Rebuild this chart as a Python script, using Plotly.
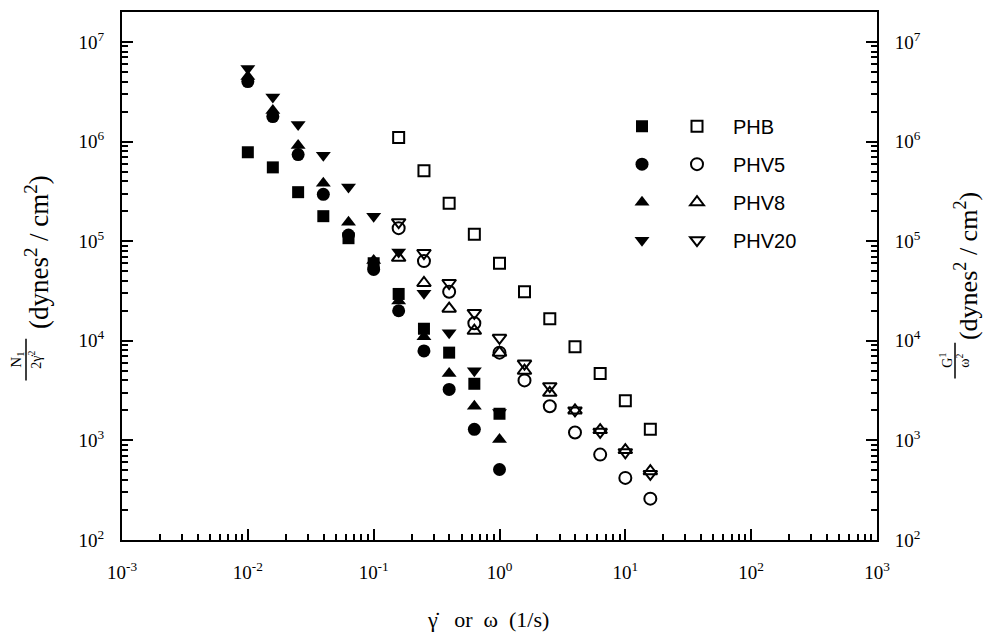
import plotly.graph_objects as go

# ---------------- data ----------------
shear_rate = [0.01, 0.0158, 0.0251, 0.0398, 0.0631, 0.1, 0.158, 0.251, 0.398, 0.631, 1.0]
freq = [0.158, 0.251, 0.398, 0.631, 1.0, 1.58, 2.51, 3.98, 6.31, 10.0, 15.8]

phb_n1 = [7.8e5, 5.5e5, 3.1e5, 1.78e5, 1.07e5, 6.0e4, 2.95e4, 1.32e4, 7.6e3, 3.7e3, 1.85e3]
phv5_n1 = [4.0e6, 1.78e6, 7.4e5, 2.95e5, 1.15e5, 5.2e4, 2.0e4, 7.9e3, 3.25e3, 1.29e3, 5.1e2]
phv8_n1 = [4.5e6, 2.05e6, 9.1e5, 3.8e5, 1.55e5, 6.4e4, 2.5e4, 1.1e4, 4.7e3, 2.2e3, 1.02e3]
phv20_n1 = [5.4e6, 2.8e6, 1.48e6, 7.3e5, 3.5e5, 1.78e5, 7.8e4, 3.0e4, 1.2e4, 5.0e3, 1.9e3]

phb_g = [1.1e6, 5.1e5, 2.4e5, 1.17e5, 6.0e4, 3.1e4, 1.66e4, 8.7e3, 4.7e3, 2.5e3, 1.29e3]
phv5_g = [1.35e5, 6.3e4, 3.1e4, 1.5e4, 7.6e3, 4.0e3, 2.2e3, 1.2e3, 7.2e2, 4.2e2, 2.6e2]
phv8_g = [6.8e4, 3.8e4, 2.1e4, 1.26e4, 7.6e3, 5.0e3, 3.0e3, 2.0e3, 1.27e3, 8.0e2, 4.9e2]
phv20_g = [1.55e5, 7.6e4, 3.8e4, 1.9e4, 1.07e4, 5.9e3, 3.5e3, 2.0e3, 1.22e3, 7.6e2, 4.6e2]

series_names = ["PHB", "PHV5", "PHV8", "PHV20"]

x_tickvals = [1e-3, 1e-2, 1e-1, 1e0, 1e1, 1e2, 1e3]
x_ticktext = ["10<sup>-3</sup>", "10<sup>-2</sup>", "10<sup>-1</sup>", "10<sup>0</sup>",
              "10<sup>1</sup>", "10<sup>2</sup>", "10<sup>3</sup>"]
y_tickvals = [1e2, 1e3, 1e4, 1e5, 1e6, 1e7]
y_ticktext = ["10<sup>2</sup>", "10<sup>3</sup>", "10<sup>4</sup>", "10<sup>5</sup>",
              "10<sup>6</sup>", "10<sup>7</sup>"]

# ---------------- figure ----------------
fig = go.Figure()

filled = [
    (phb_n1, "square", 12),
    (phv5_n1, "circle", 13),
    (phv8_n1, "triangle-up", 13),
    (phv20_n1, "triangle-down", 13),
]
opened = [
    (phb_g, "square-open", 11),
    (phv5_g, "circle-open", 12),
    (phv8_g, "triangle-up-open", 12),
    (phv20_g, "triangle-down-open", 12),
]

for i, (vals, sym, sz) in enumerate(filled):
    fig.add_trace(go.Scatter(
        x=shear_rate, y=vals, mode="markers", name="",
        marker=dict(symbol=sym, size=sz, color="black", line=dict(width=0)),
        legend="legend", legendgroup=f"f{i}", showlegend=True,
    ))

for i, (vals, sym, sz) in enumerate(opened):
    fig.add_trace(go.Scatter(
        x=freq, y=vals, mode="markers", name=series_names[i],
        marker=dict(symbol=sym, size=sz, color="black", line=dict(width=2, color="black")),
        legend="legend2", legendgroup=f"o{i}", showlegend=True, yaxis="y2",
    ))

# the page puts the figure 8px in from the top-left corner
OFF = 8
W, H = 992 - OFF, 632 - OFF
L, T = 122 - OFF, 10 - OFF
R = W - (877 - OFF)
B = H - (540 - OFF)
pw, ph = W - L - R, H - T - B


def px(xs):
    return (xs - OFF - L) / pw


def py(ys):
    return (H - B - (ys - OFF)) / ph


tickfont = dict(family="Liberation Serif", size=19, color="black")
minor = dict(ticks="inside", ticklen=6, tickwidth=1.5, dtick="D1", tickcolor="black", showgrid=False)

fig.update_layout(
    width=W, height=H,
    margin=dict(l=L, r=R, t=T, b=B),
    paper_bgcolor="white", plot_bgcolor="white",
    font=dict(family="Liberation Serif", color="black"),
    xaxis=dict(
        type="log", range=[-3, 3], tickvals=x_tickvals, ticktext=x_ticktext,
        showline=True, linecolor="black", linewidth=2, mirror=True,
        ticks="inside", ticklen=11, tickwidth=1.5, tickcolor="black",
        tickfont=tickfont, ticklabelstandoff=14, showgrid=False, zeroline=False,
        minor=minor,
    ),
    yaxis=dict(
        type="log", range=[2, 7.3], tickvals=y_tickvals, ticktext=y_ticktext,
        showline=True, linecolor="black", linewidth=2,
        ticks="inside", ticklen=11, tickwidth=1.5, tickcolor="black",
        tickfont=tickfont, ticklabelstandoff=12, showgrid=False, zeroline=False,
        minor=minor,
    ),
    yaxis2=dict(
        type="log", range=[2, 7.3], tickvals=y_tickvals, ticktext=y_ticktext,
        overlaying="y", side="right",
        showline=True, linecolor="black", linewidth=2,
        ticks="inside", ticklen=11, tickwidth=1.5, tickcolor="black",
        tickfont=tickfont, ticklabelstandoff=12, showgrid=False, zeroline=False,
        minor=minor,
    ),
    legend=dict(
        x=px(622), y=py(105), xanchor="left", yanchor="top",
        bgcolor="rgba(0,0,0,0)", borderwidth=0, tracegroupgap=9,
        font=dict(family="Liberation Sans", size=20, color="black"),
        itemwidth=30,
    ),
    legend2=dict(
        x=px(661), y=py(105), xanchor="left", yanchor="top",
        bgcolor="rgba(0,0,0,0)", borderwidth=0, tracegroupgap=9,
        font=dict(family="Liberation Sans", size=20, color="black"),
        itemwidth=62,
    ),
    showlegend=True,
)

serif = "Liberation Serif"
ann = [
    # x axis title
    dict(x=488, y=620, text="γ̇   or  ω  (1/s)", textangle=0, size=22),
    # left axis title
    dict(x=37, y=251, text="(dynes<sup>2</sup> / cm<sup>2</sup>)", textangle=-90, size=27),
    dict(x=17, y=359, text="N<sub>1</sub>", textangle=-90, size=15),
    dict(x=35, y=359, text="2γ̇<sup>2</sup>", textangle=-90, size=14),
    # right axis title
    dict(x=966, y=265, text="(dynes<sup>2</sup> / cm<sup>2</sup>)", textangle=-90, size=26),
    dict(x=946, y=360, text="G<sup>1</sup>", textangle=-90, size=14),
    dict(x=963, y=360, text="ω<sup>2</sup>", textangle=-90, size=14),
]
annotations = []
for a in ann:
    annotations.append(dict(
        x=px(a["x"]), y=py(a["y"]), xref="paper", yref="paper",
        text=a["text"], textangle=a["textangle"], showarrow=False,
        xanchor="center", yanchor="middle",
        font=dict(family=serif, size=a["size"], color="black"),
    ))
fig.update_layout(annotations=annotations)

# fraction bars
fig.add_shape(type="line", xref="paper", yref="paper",
              x0=px(26), x1=px(26), y0=py(338), y1=py(380),
              line=dict(color="black", width=1.5))
fig.add_shape(type="line", xref="paper", yref="paper",
              x0=px(955), x1=px(955), y0=py(342), y1=py(378),
              line=dict(color="black", width=1.5))

fig.write_html("out.html")
